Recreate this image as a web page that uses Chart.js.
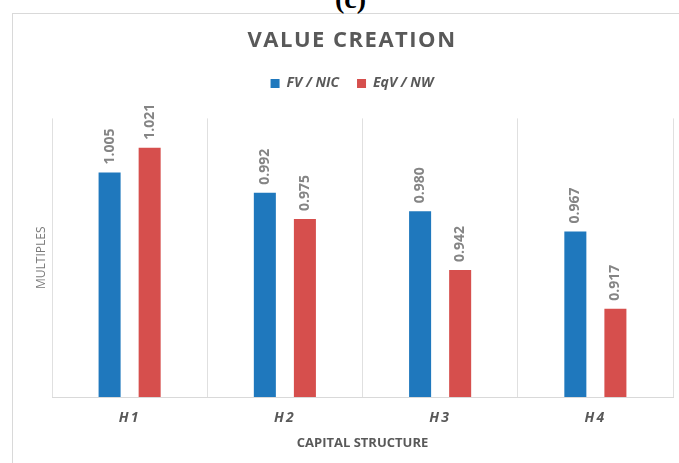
<!DOCTYPE html>
<html>
<head>
<meta charset="utf-8">
<script src="https://cdn.jsdelivr.net/npm/chart.js@4/dist/chart.umd.min.js"></script>
<style>
  html, body { margin: 0; padding: 0; background: #fff; }
  #wrap { position: relative; width: 679px; height: 463px; overflow: hidden; }
  #frame { position: absolute; left: 12px; top: 13px; width: 700px; height: 500px; border: 1px solid #d9d9d9; box-sizing: border-box; }
  #tag { position: absolute; left: 11px; width: 679px; top: -17px; text-align: center; font: bold 28px "Liberation Serif", serif; color: #000; }
  canvas { position: absolute; left: 0; top: 0; }
</style>
</head>
<body>
<div id="wrap">
  <div id="frame"></div>
  <div id="tag">(c)</div>
  <canvas id="c" width="679" height="463"></canvas>
</div>
<script>
const categories = ["H1", "H2", "H3", "H4"];
const seriesNames = ["FV / NIC", "EqV / NW"];
const fvNic = [1.005, 0.992, 0.980, 0.967];
const eqvNw = [1.021, 0.975, 0.942, 0.917];
const yMin = 0.86;
const yMax = 1.04;

const labelPlugin = {
  id: 'barLabels',
  afterDatasetsDraw(chart) {
    const ctx = chart.ctx;
    ctx.save();
    ctx.font = 'bold 14px "Open Sans"';
    ctx.fillStyle = '#858585';
    ctx.textAlign = 'left';
    ctx.textBaseline = 'middle';
    chart.data.datasets.forEach((ds, i) => {
      chart.getDatasetMeta(i).data.forEach((bar, j) => {
        ctx.save();
        ctx.translate(bar.x, bar.y - 8);
        ctx.rotate(-Math.PI / 2);
        ctx.fillText(ds.data[j].toFixed(3), 0, 0);
        ctx.restore();
      });
    });
    ctx.restore();
  }
};

const chart = new Chart(document.getElementById('c'), {
  type: 'bar',
  data: {
    labels: categories,
    datasets: [
      { label: seriesNames[0], data: fvNic, backgroundColor: '#1f78bd' },
      { label: seriesNames[1], data: eqvNw, backgroundColor: '#d64f4d' }
    ]
  },
  options: {
    responsive: false,
    animation: false,
    layout: { padding: { left: 31, right: 6, top: 0, bottom: 8 } },
    datasets: { bar: { barPercentage: 0.55, categoryPercentage: 0.516 } },
    plugins: {
      title: {
        display: true, text: 'VALUE CREATION', color: '#595959',
        font: { family: '"Open Sans"', size: 22, weight: 'bold' },
        padding: { top: 28, bottom: 4 }
      },
      legend: {
        display: true,
        labels: {
          color: '#595959', boxWidth: 9, boxHeight: 9, padding: 18,
          font: { family: '"Open Sans"', size: 14, weight: 'bold', style: 'italic' }
        }
      },
      tooltip: { enabled: false }
    },
    scales: {
      x: {
        afterFit(s) { s.height = 58; },
        grid: { display: true, offset: true, color: '#e0e0e0', drawTicks: false },
        border: { display: true, color: '#d9d9d9' },
        ticks: { color: '#595959', padding: 13, font: { family: '"Open Sans"', size: 14, weight: 'bold', style: 'italic' } },
        title: { display: true, text: 'CAPITAL STRUCTURE', color: '#595959', padding: { top: 8, bottom: 4 },
          font: { family: '"Open Sans"', size: 13, weight: 'bold' } }
      },
      y: {
        afterFit(s) { s.width = 21; },
        min: yMin, max: yMax,
        grid: { display: false },
        border: { display: false },
        ticks: { display: false },
        title: { display: true, text: 'MULTIPLES', color: '#7a7a7a', padding: { top: 3, bottom: 4 },
          font: { family: '"Open Sans"', size: 12 } }
      }
    }
  },
  plugins: [labelPlugin]
});

const ctx = chart.ctx;
// extra space under the legend
const lg = chart.legend;
const origFit = lg.fit.bind(lg);
lg.fit = function () { origFit(); this.height += 18; };
// letter spacing for title and category labels
const tb = chart.titleBlock;
const origTitleDraw = tb.draw.bind(tb);
tb.draw = function () { ctx.save(); ctx.letterSpacing = '1.5px'; origTitleDraw(); ctx.restore(); };
const xs = chart.scales.x;
const origLabels = xs.drawLabels.bind(xs);
xs.drawLabels = function (a) { ctx.save(); ctx.letterSpacing = '2px'; origLabels(a); ctx.restore(); };
chart.update();
</script>
</body>
</html>
